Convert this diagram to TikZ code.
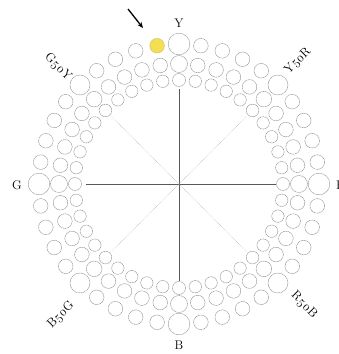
\documentclass[tikz,border=0pt]{standalone}
\usepackage{fontspec}
\setmainfont{Latin Modern Roman}[Numbers=OldStyle]
\usetikzlibrary{arrows.meta}
\definecolor{ncsyellow}{RGB}{244,222,84}
\tikzset{
  ring/.style={draw=black!45, line width=0.45pt, dash pattern=on 1.2pt off 0.5pt},
  axisline/.style={draw=black!65, line width=0.7pt},
  diagline/.style={draw=black!30, line width=0.5pt, densely dotted},
  lab/.style={font=\fontsize{12.5}{13}\selectfont, inner sep=0pt},
  pointer/.style={-{Stealth[length=6pt,width=5pt]}, line width=1.3pt, black},
}
\begin{document}
\begin{tikzpicture}[x=1pt,y=1pt]
\useasboundingbox (-179,-170) rectangle (160,184);
\coordinate (O) at (0,0);
% hue circles: 40 hues, three rings
\foreach \i in {0,...,39}{
  \pgfmathsetmacro\ang{90-9*\i}
  \pgfmathtruncatemacro\md{mod(\i,10)}
  \ifnum\md=0 \def\rO{10.8}\def\rM{8.5}\def\rI{6.5}%
  \else\ifnum\md=5 \def\rO{10}\def\rM{7.8}\def\rI{6.3}%
  \else \def\rO{7.3}\def\rM{7.3}\def\rI{6.2}\fi\fi
  \ifnum\i=39
    \filldraw[fill=ncsyellow, draw=ncsyellow!80!black!80, line width=0.45pt] (\ang:140) circle (\rO);
  \else
    \draw[ring] (\ang:140) circle (\rO);
  \fi
  \draw[ring] (\ang:120) circle (\rM);
  \draw[ring] (\ang:104) circle (\rI);
}
% axes
\coordinate (T) at (90:95);
\coordinate (Bo) at (270:97);
\coordinate (L) at (180:93);
\coordinate (Ri) at (0:97);
\draw[axisline] (O) -- (T);
\draw[axisline] (O) -- (Bo);
\draw[axisline] (O) -- (L);
\draw[axisline] (O) -- (Ri);
\foreach \d in {45,135,225,315}{
  \coordinate (D\d) at (\d:95);
  \draw[diagline] (O) -- (D\d);
}
% labels
\node[lab] (lY) at (0,161) {Y};
\node[lab] (lB) at (0,-161) {B};
\node[lab] (lG) at (-162,-1) {G};
\node[lab, anchor=west] (lR) at (157,-1) {R};
\node[lab, rotate=-45] (lGY) at (-121,117) {G50Y};
\node[lab, rotate=45] (lYR) at (119,123) {Y50R};
\node[lab, rotate=45] (lBG) at (-118,-131) {B50G};
\node[lab, rotate=-45] (lRB) at (125,-121) {R50B};
% arrow
\coordinate (A1) at (-51,175);
\coordinate (A2) at (-36,156);
\draw[pointer] (A1) -- (A2);
\end{tikzpicture}
\end{document}
